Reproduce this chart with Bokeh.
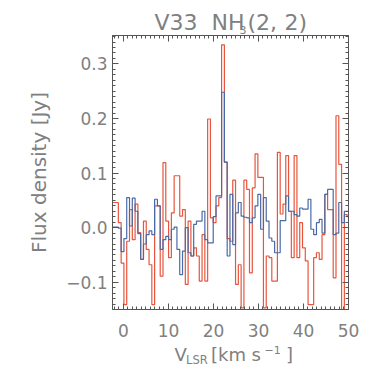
from bokeh.plotting import figure
from bokeh.layouts import column
from bokeh.models import Range1d, LinearAxis, SingleIntervalTicker, CustomJSTickFormatter
from bokeh.core.properties import value
from bokeh.embed import file_html
from bokeh.resources import INLINE

# channel grid (km/s)
v_start = -2.69
chan_width = 0.62

# NH3(2,2) flux density (Jy), red spectrum
red_flux = [0.046, 0.046, 0.046, 0.009, -0.065, -0.141, -0.025, 0.033, -0.022, 0.043,
            -0.009, -0.058, 0.012, -0.040, -0.068, -0.141, 0.040, 0.040, -0.089, 0.119,
            0.012, -0.055, 0.027, 0.095, 0.095, 0.021, 0.033, -0.104, 0.012, -0.052,
            -0.037, -0.052, -0.098, -0.013, -0.098, 0.199, 0.018, 0.009, 0.040, 0.055,
            0.335, 0.120, -0.020, -0.025, 0.087, -0.104, -0.068, -0.147, 0.087, 0.070,
            -0.083, 0.073, 0.135, 0.092, 0.092, -0.147, -0.052, -0.055, -0.098, -0.098,
            0.138, 0.025, 0.043, 0.132, 0.030, -0.055, 0.132, -0.055, 0.009, -0.037,
            -0.061, -0.141, -0.141, -0.055, -0.046, -0.058, -0.013, 0.061, 0.033, 0.033,
            -0.092, 0.205, 0.116, -0.150, 0.024, 0.020]

# blue spectrum
blue_flux = [0.001, 0.001, 0.001, -0.001, -0.044, -0.020, 0.055, 0.003, 0.054, 0.030,
             -0.011, -0.058, -0.030, -0.013, -0.006, -0.013, 0.052, 0.040, -0.040, -0.022,
             -0.016, -0.022, -0.003, 0.001, -0.040, -0.086, -0.043, 0.000, -0.046, -0.052,
             0.006, 0.012, 0.012, 0.030, -0.022, -0.028, -0.028, 0.020, 0.058, 0.058,
             0.248, 0.120, -0.052, 0.061, -0.031, 0.027, 0.046, 0.021, 0.019, 0.018,
             0.009, 0.018, 0.040, 0.061, -0.003, 0.055, 0.012, -0.019, -0.025, -0.046,
             -0.046, 0.013, 0.013, 0.058, 0.030, 0.030, 0.024, 0.021, 0.036, 0.034,
             0.034, 0.052, -0.003, -0.013, 0.009, 0.015, -0.010, 0.061, 0.070, 0.070,
             -0.013, -0.010, 0.046, 0.009, 0.030, 0.030]

vel = [round(v_start + chan_width * i, 3) for i in range(len(red_flux))]

y_label = "Flux density [Jy]"

AX = "#555555"
TXT = "#808080"
FONT = "DejaVu Sans"
RED = "#e8553e"
BLUE = "#4a6aa5"
W = 366
BL, BR = 112, 18          # left / right borders shared by all strips
FX0, FX1 = BL, W - BR     # frame extent in page pixels
TH = 35                   # title strip height
MAIN_H = 308              # main plot height (0 top + 274 frame + 34 bottom)
LH = 366 - TH - MAIN_H    # x-label strip height
L0 = TH + MAIN_H          # page row where x-label strip starts


def strip(h):
    f = figure(width=W, height=h, output_backend="svg", toolbar_location=None, title=None,
               x_range=Range1d(FX0, FX1), y_range=Range1d(0, h),
               x_axis_location=None, y_axis_location=None,
               min_border_left=BL, min_border_right=BR, min_border_top=0, min_border_bottom=0)
    f.grid.visible = False
    f.outline_line_color = None
    return f


def txt(fig, x, y, s, size, color=TXT):
    fig.text(x=[x], y=[y], text=[s], text_font=value(FONT), text_font_size=size,
             text_color=color, text_align="left", text_baseline="middle")


# ---------- title strip (page rows 0..35) ----------
tf = strip(TH)
txt(tf, 154, TH - 22, "V33", "22px")
txt(tf, 211, TH - 22, "NH", "22px")
txt(tf, 239, TH - 29.3, "3", "11px")
txt(tf, 247, TH - 22, "(2,", "22px")
txt(tf, 284, TH - 22, "2)", "22px")

# ---------- main plot ----------
p = figure(width=W, height=MAIN_H, output_backend="svg", toolbar_location=None, title=None,
           x_range=Range1d(-2.44, 50.0), y_range=Range1d(-0.150, 0.352),
           x_axis_location=None, y_axis_location=None,
           min_border_left=BL, min_border_right=BR, min_border_top=0, min_border_bottom=34)
p.grid.visible = False
p.outline_line_color = AX
p.outline_line_width = 1

yfmt = CustomJSTickFormatter(code="""
    var s = Math.abs(tick).toFixed(1);
    return (tick < -1e-9 ? "\\u2212" : "") + s;
""")


def style_axis(ax, labels=True):
    ax.axis_line_color = AX
    ax.major_tick_line_color = AX
    ax.minor_tick_line_color = AX
    ax.major_tick_in = 6
    ax.major_tick_out = 0
    ax.minor_tick_in = 3
    ax.minor_tick_out = 0
    if labels:
        ax.major_label_text_color = TXT
        ax.major_label_text_font = FONT
        ax.major_label_text_font_size = "17px"
    else:
        ax.major_label_text_color = None
        ax.major_label_text_alpha = 0
        ax.major_label_text_font_size = "1px"
        ax.major_label_standoff = 0


xb = LinearAxis(ticker=SingleIntervalTicker(interval=10, num_minor_ticks=10))
style_axis(xb)
xb.major_label_standoff = 14
p.add_layout(xb, "below")

xt = LinearAxis(ticker=SingleIntervalTicker(interval=10, num_minor_ticks=10))
style_axis(xt, labels=False)
p.add_layout(xt, "above")

yl = LinearAxis(ticker=SingleIntervalTicker(interval=0.1, num_minor_ticks=10), formatter=yfmt)
style_axis(yl)
yl.major_label_standoff = 5
yl.axis_label = y_label
yl.axis_label_text_font = FONT
yl.axis_label_text_font_size = "20px"
yl.axis_label_text_font_style = "normal"
yl.axis_label_text_color = TXT
yl.axis_label_standoff = 12
p.add_layout(yl, "left")

yr = LinearAxis(ticker=SingleIntervalTicker(interval=0.1, num_minor_ticks=10))
style_axis(yr, labels=False)
p.add_layout(yr, "right")

p.step(vel, red_flux, mode="center", line_color=RED, line_width=1.2)
p.step(vel, blue_flux, mode="center", line_color=BLUE, line_width=1.2)

# ---------- x-axis label strip ----------
lf = strip(LH)


def row(py):
    return LH - (py - L0)


txt(lf, 174, row(353.5), "V", "18px")
txt(lf, 185.5, row(359), "LSR", "11.5px")
txt(lf, 210.5, row(353.5), "[km", "18px")
txt(lf, 251, row(353.5), "s", "18px")
txt(lf, 264, row(349.5), "\u22121", "11px")
txt(lf, 285.5, row(353.5), "]", "18px")

layout = column(tf, p, lf, spacing=0)
open("out.html", "w").write(file_html(layout, INLINE))
